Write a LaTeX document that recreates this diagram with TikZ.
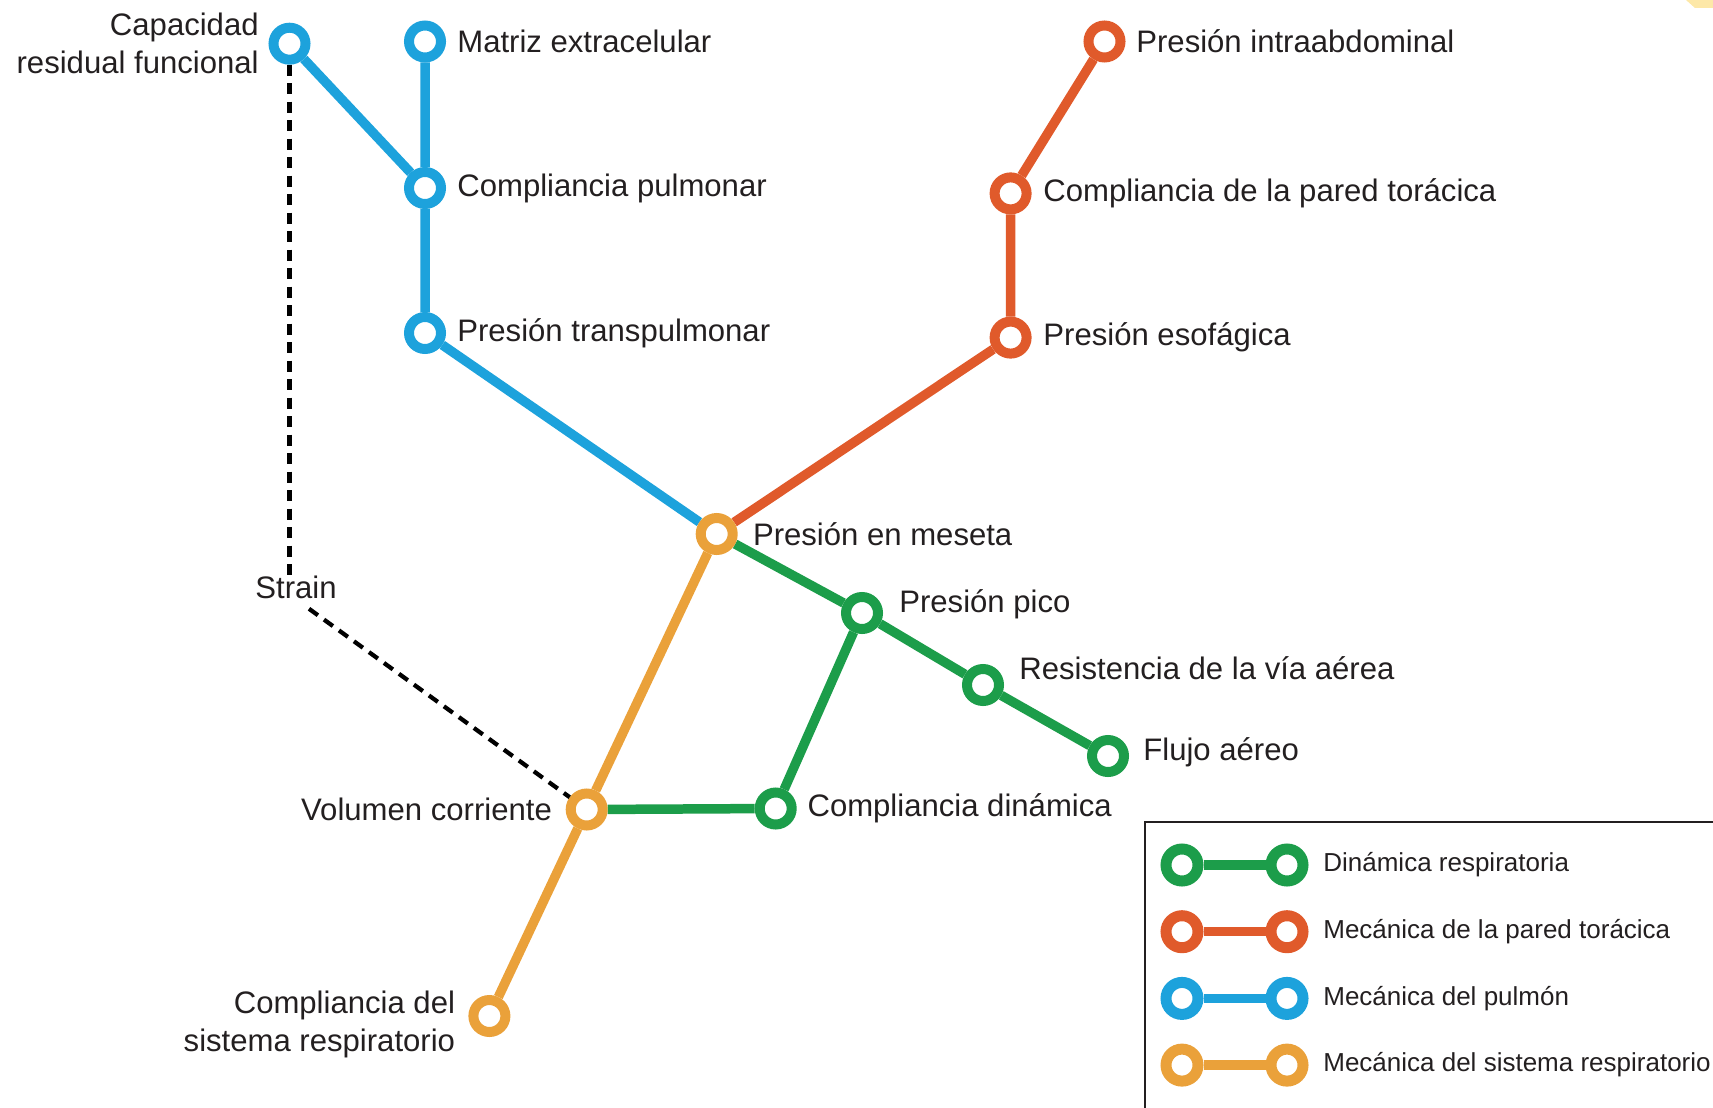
\documentclass[tikz,border=0pt]{standalone}
\usepackage{fontspec}
\setmainfont{Liberation Sans}
\usetikzlibrary{positioning,backgrounds}
\definecolor{verde}{RGB}{28,157,74}
\definecolor{rojo}{RGB}{224,90,43}
\definecolor{azul}{RGB}{29,162,220}
\definecolor{naranja}{RGB}{234,161,58}
\definecolor{texto}{RGB}{35,31,32}
\definecolor{amarillo}{RGB}{253,232,168}

\begin{document}
\begin{tikzpicture}[x=0.02cm,y=-0.02cm,node distance=0.25cm,
  est/.style={circle,draw=#1,fill=white,line width=0.2cm,minimum size=0.64cm,inner sep=0pt},
  estley/.style={circle,draw=#1,fill=white,line width=0.22cm,minimum size=0.64cm,inner sep=0pt},
  via/.style={draw=#1,line width=0.19cm},
  lbl/.style={inner sep=0pt,text=texto,font=\fontsize{17.7}{21.6}\selectfont},
  leyenda/.style={inner sep=0pt,text=texto,font=\fontsize{14.8}{17}\selectfont},
  guion/.style={draw=black,line width=0.085cm,dash pattern=on 0.22cm off 0.15cm}]
\useasboundingbox (0,0) rectangle (1713,1108);
\clip (0,0) rectangle (1713,1108);
\fill[amarillo] (1686,0) -- (1713,0) -- (1713,8) -- (1695,8) -- cycle;
% estaciones
\node[est=azul] (crf) at (289.5,43.7) {};
\node[est=azul] (mat) at (425,41.5) {};
\node[est=azul] (cp) at (425,188) {};
\node[est=azul] (tp) at (425,333) {};
\node[est=naranja] (pm) at (716.7,534) {};
\node[est=rojo] (pia) at (1104.5,41.5) {};
\node[est=rojo] (cpt) at (1010.6,193.4) {};
\node[est=rojo] (pe) at (1010.6,337.6) {};
\node[est=verde] (pp) at (862,613) {};
\node[est=verde] (res) at (983,685) {};
\node[est=verde] (flu) at (1108,756) {};
\node[est=verde] (cd) at (775.7,808.5) {};
\node[est=naranja] (vc) at (586.7,809.5) {};
\node[est=naranja] (csr) at (489.4,1016) {};
% textos
\node[lbl,align=right,left=0.19cm of crf] (crfL) {Capacidad\\residual funcional};
\node[lbl,right=0.22cm of mat] (matL) {Matriz extracelular};
\node[lbl,right=0.22cm of cp] (cpL) {Compliancia pulmonar};
\node[lbl,right=0.22cm of tp] (tpL) {Presión transpulmonar};
\node[lbl,right=0.3cm of pm] (pmL) {Presión en meseta};
\node[lbl,right=0.21cm of pia] (piaL) {Presión intraabdominal};
\node[lbl,right=0.23cm of cpt] (cptL) {Compliancia de la pared torácica};
\node[lbl,right=0.23cm of pe] (peL) {Presión esofágica};
\node[lbl,right=0.32cm of pp,yshift=0.18cm] (ppL) {Presión pico};
\node[lbl,right=0.3cm of res,yshift=0.34cm] (resL) {Resistencia de la vía aérea};
\node[lbl,right=0.28cm of flu,yshift=0.08cm] (fluL) {Flujo aéreo};
\node[lbl,right=0.21cm of cd] (cdL) {Compliancia dinámica};
\node[lbl,left=0.27cm of vc] (vcL) {Volumen corriente};
\node[lbl,align=right,left=0.26cm of csr,yshift=-0.16cm] (csrL) {Compliancia del\\sistema respiratorio};
\node[lbl] (strain) at (296,587) {Strain};
% lineas
\begin{scope}[on background layer]
\draw[via=azul] (crf) -- (cp);
\draw[via=azul] (mat) -- (cp) -- (tp) -- (pm);
\draw[via=rojo] (pia) -- (cpt) -- (pe) -- (pm);
\draw[via=verde] (pm) -- (pp) -- (res) -- (flu);
\draw[via=verde] (pp) -- (cd) -- (vc);
\draw[via=naranja] (pm) -- (vc) -- (csr);
\end{scope}
\draw[guion] (crf) -- (crf |- strain.north);
\draw[guion] ([xshift=0.26cm,yshift=-0.2cm]strain.south) -- (vc);
% leyenda
\draw[texto,line width=0.05cm] (1145,822) rectangle (1740,1130);
\foreach \c/\t [count=\i, evaluate=\i as \y using 865+66.7*(\i-1)] in
  {verde/Dinámica respiratoria,rojo/Mecánica de la pared torácica,azul/Mecánica del pulmón,naranja/Mecánica del sistema respiratorio}
{
  \node[estley=\c] (a\i) at (1182,\y) {};
  \node[estley=\c] (b\i) at (1287,\y) {};
  \draw[via=\c] (a\i) -- (b\i);
  \node[leyenda,right=0.29cm of b\i] (t\i) {\t};
}
\end{tikzpicture}
\end{document}
